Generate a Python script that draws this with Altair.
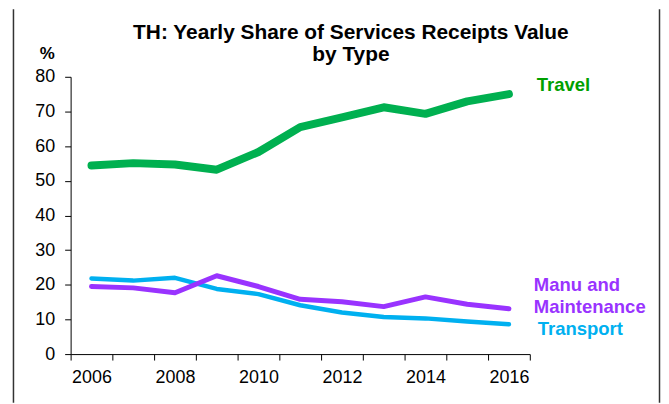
import altair as alt
import pandas as pd

years = list(range(2006, 2017))
travel = [54.4, 55.1, 54.7, 53.2, 58.3, 65.5, 68.3, 71.2, 69.3, 72.9, 75.0]
manu = [19.5, 19.1, 17.7, 22.6, 19.5, 15.8, 15.1, 13.7, 16.5, 14.4, 13.1]
transport = [21.8, 21.2, 22.0, 18.8, 17.3, 14.1, 12.0, 10.7, 10.3, 9.4, 8.6]

series_names = ["Transport", "Manu and Maintenance", "Travel"]
series_values = [transport, manu, travel]
series_labels = ["Transport", "Manu and\nMaintenance", "Travel"]
line_colors = ["#00B0F0", "#9933FF", "#00B050"]
label_colors = ["#00B0F0", "#9933FF", "#00A000"]
line_widths = [4.5, 5, 8]
label_dy = [11, -17.6, -3.4]
label_dx = [29, 25, 28]

year_labels = [2006, 2008, 2010, 2012, 2014, 2016]
title_lines = ["TH: Yearly Share of Services Receipts Value", "by Type"]

FONT = "Liberation Sans"

rows = []
for name, vals, lab in zip(series_names, series_values, series_labels):
    for y, v in zip(years, vals):
        rows.append({"series": name, "year": y, "value": v, "label": lab})
df = pd.DataFrame(rows)
one = pd.DataFrame({"k": [0]})

x_scale = alt.Scale(domain=[years[0] - 0.5, years[-1] + 0.5], nice=False, zero=False)
tick_values = [years[0] - 0.5 + i for i in range(len(years) + 1)]

axis_ticks = alt.Axis(
    values=tick_values,
    labels=False,
    tickSize=6,
    orient="bottom",
)
axis_labels = alt.Axis(
    values=year_labels,
    format="d",
    ticks=False,
    domain=False,
    labelPadding=15,
    labelFlush=False,
    orient="bottom",
)

y_enc = alt.Y(
    "value:Q",
    scale=alt.Scale(domain=[0, 80], nice=False),
    axis=alt.Axis(
        values=list(range(0, 81, 10)),
        tickSize=6,
        labelPadding=10,
        title="%",
        titleAngle=0,
        titleAlign="center",
        titleBaseline="alphabetic",
        titleX=-24,
        titleY=-18,
        titleFontSize=17,
        titleFontWeight="bold",
    ),
)

layers = []
for i, (name, col, w) in enumerate(zip(series_names, line_colors, line_widths)):
    if i == 0:
        ax = axis_ticks
    elif i == 1:
        ax = axis_labels
    else:
        ax = None
    layers.append(
        alt.Chart(df)
        .transform_filter(alt.datum.series == name)
        .mark_line(color=col, strokeWidth=w, strokeCap="round", strokeJoin="round")
        .encode(x=alt.X("year:Q", scale=x_scale, axis=ax, title=None), y=y_enc)
    )

for name, col, dx, dy in zip(series_names, label_colors, label_dx, label_dy):
    layers.append(
        alt.Chart(df)
        .transform_filter((alt.datum.series == name) & (alt.datum.year == years[-1]))
        .mark_text(
            align="left",
            baseline="alphabetic",
            dx=dx,
            dy=dy,
            fontSize=18.6,
            fontWeight="bold",
            font=FONT,
            color=col,
            lineBreak="\n",
            lineHeight=21.6,
        )
        .encode(x=alt.X("year:Q", scale=x_scale, axis=None), y=y_enc, text="label:N")
    )

# chart frame lines
frame_left = alt.Chart(one).mark_rule(color="#333333", strokeWidth=1.5).encode(
    x=alt.value(-57.5), y=alt.value(-68), y2=alt.value(328)
)
frame_right = alt.Chart(one).mark_rule(color="#333333", strokeWidth=1.5).encode(
    x=alt.value(592.5), y=alt.value(-68), y2=alt.value(328)
)

title_mark = alt.Chart(one).mark_text(
    text=title_lines,
    align="center",
    baseline="alphabetic",
    fontSize=21,
    fontWeight="bold",
    font=FONT,
    color="black",
    lineHeight=22.5,
).encode(x=alt.value(282), y=alt.value(-38))

layers = [frame_left, frame_right] + layers + [title_mark]

chart = (
    alt.layer(*layers)
    .resolve_scale(x="shared")
    .resolve_axis(x="independent")
    .properties(
        width=462,
        height=279,
        autosize=alt.AutoSizeParams(type="none"),
        padding={"left": 63, "top": 68, "right": 132, "bottom": 49},
    )
    .configure_view(stroke=None)
    .configure_axis(
        grid=False,
        domainColor="black",
        tickColor="black",
        labelColor="black",
        titleColor="black",
        labelFont=FONT,
        titleFont=FONT,
        labelFontSize=18,
        domainWidth=1,
        tickWidth=1,
    )
)

chart.save("out.html", embed_options={"renderer": "svg", "actions": False})
